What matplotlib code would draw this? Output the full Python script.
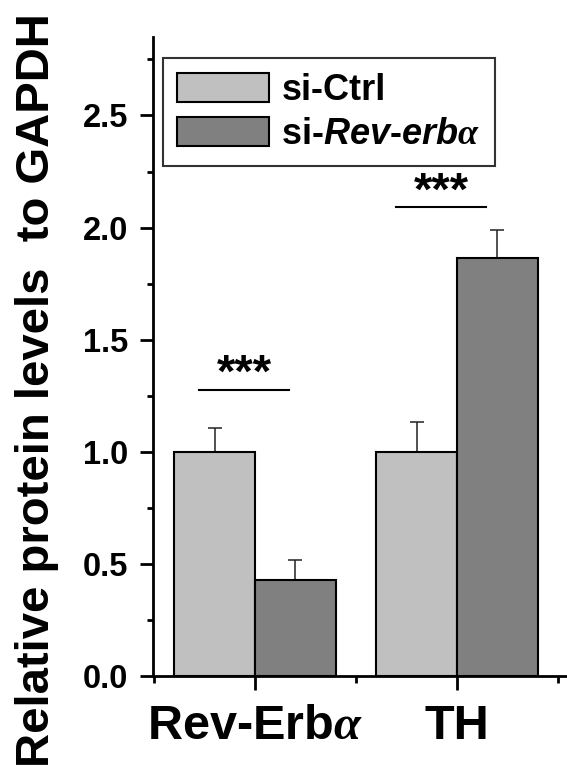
import matplotlib
matplotlib.use("Agg")
import matplotlib.pyplot as plt
import numpy as np
from matplotlib.ticker import MultipleLocator, FixedLocator

plt.rcParams['font.family'] = ['Liberation Sans', 'DejaVu Sans']
plt.rcParams['font.weight'] = 'bold'
plt.rcParams['mathtext.fontset'] = 'custom'
plt.rcParams['mathtext.rm'] = 'Liberation Sans:bold'
plt.rcParams['mathtext.it'] = 'Liberation Serif:italic'
plt.rcParams['mathtext.bfit'] = 'Liberation Sans:italic:bold'

categories = ['Rev-Erb$\\alpha$', 'TH']
series_names = ['si-Ctrl', 'si-$\\mathbfit{Rev}$-$\\mathbfit{erb}\\mathit{\\alpha}$']
ctrl_values = [1.0, 1.0]
ctrl_errors = [0.107, 0.134]
si_values = [0.43, 1.866]
si_errors = [0.088, 0.124]
sig_labels = ['***', '***']
sig_line_y = [1.277, 2.09]
yticks = [0.0, 0.5, 1.0, 1.5, 2.0, 2.5]
ytick_labels = ['0.0', '0.5', '1.0', '1.5', '2.0', '2.5']

PT = 72 / 100.0  # points per pixel at dpi 100

fig = plt.figure(figsize=(5.67, 7.69), dpi=100)
ax = fig.add_axes([153/567, 1-676/769, 1-153/567, (676-37)/769])

x = np.arange(len(categories))
w = 0.4
ax.bar(x - w/2, ctrl_values, w, color='#C0C0C0', edgecolor='black', linewidth=1.5, label=series_names[0], zorder=3)
ax.bar(x + w/2, si_values, w, color='#808080', edgecolor='black', linewidth=1.5, label=series_names[1], zorder=3)
ax.errorbar(x - w/2, ctrl_values, yerr=[np.zeros(2), ctrl_errors], fmt='none', ecolor='#222222',
            elinewidth=1.1, capsize=4.7, capthick=1.1, zorder=2)
ax.errorbar(x + w/2, si_values, yerr=[np.zeros(2), si_errors], fmt='none', ecolor='#222222',
            elinewidth=1.1, capsize=4.7, capthick=1.1, zorder=2)

line_x0 = [-0.277, -0.30]
line_x1 = [0.168, 0.144]
for i in range(len(categories)):
    ax.plot([x[i] + line_x0[i], x[i] + line_x1[i]], [sig_line_y[i]] * 2, color='black', lw=1.5)
    ax.annotate(sig_labels[i], xy=(x[i] + (line_x0[i] + line_x1[i]) / 2, sig_line_y[i]),
                xytext=(0, 3 * PT), textcoords='offset points',
                ha='center', va='baseline', fontsize=34, fontweight='bold')

ax.set_xlim(-0.505, 1.545)
ax.set_ylim(0, 2.85)
ax.spines['top'].set_visible(False)
ax.spines['right'].set_visible(False)
ax.spines['left'].set_linewidth(2)
ax.spines['bottom'].set_linewidth(2)

ax.set_xticks(x)
ax.set_xticklabels(categories, fontsize=35, fontweight='bold')
ax.xaxis.set_minor_locator(FixedLocator([-0.5, 0.5, 1.5]))
ax.set_yticks(yticks)
ax.set_yticklabels(ytick_labels, fontsize=23.5, fontweight='bold')
ax.yaxis.set_minor_locator(MultipleLocator(0.25))
ax.tick_params(axis='y', which='major', direction='out', length=13 * PT, width=2, pad=12 * PT)
ax.tick_params(axis='y', which='minor', direction='out', length=6 * PT, width=2)
ax.tick_params(axis='x', which='major', direction='out', length=14 * PT, width=2, pad=10)
ax.tick_params(axis='x', which='minor', direction='out', length=7 * PT, width=2)

ax.set_ylabel('Relative protein levels  to GAPDH', fontsize=34, fontweight='bold')
ax.yaxis.set_label_coords(-0.227, 0.448)

leg = ax.legend(loc='upper left', bbox_to_anchor=(0.024, 0.967), borderaxespad=0,
                fontsize=26, frameon=True, fancybox=False, edgecolor='black',
                handlelength=2.55, handleheight=0.86, handletextpad=0.33, labelspacing=0.25,
                borderpad=0.4)
leg.get_frame().set_linewidth(1.5)
for t in leg.get_texts():
    t.set_fontweight('bold')

fig.savefig('out.png', dpi=100)
